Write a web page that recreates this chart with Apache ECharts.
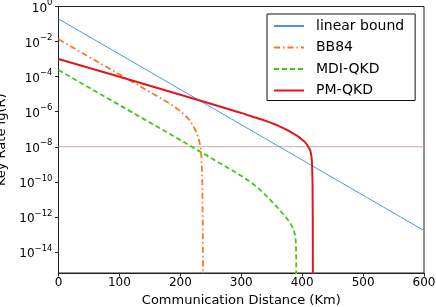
<!DOCTYPE html>
<html>
<head>
<meta charset="utf-8">
<script src="https://cdn.jsdelivr.net/npm/echarts@6/dist/echarts.min.js"></script>
<style>
html,body{margin:0;padding:0;background:#fff;}
#c{width:436px;height:307px;}
</style>
</head>
<body>
<div id="c"></div>
<script>
// Values (distance in km, lg of key rate)
var boundKm = [0, 300, 600];
var boundLg = [-0.71, -6.74, -12.78];

var bb84Km = [0, 50, 100, 150, 165, 180, 192, 200, 207, 213, 218, 222, 226, 229, 231, 233, 234.5, 235.5, 236.2, 236.8, 237.3];
var bb84Lg = [-1.87, -2.87, -3.87, -4.87, -5.18, -5.48, -5.76, -5.97, -6.18, -6.4, -6.64, -6.88, -7.15, -7.42, -7.68, -8.0, -8.5, -9.3, -10.5, -12.5, -16];

var mdiKm = [0, 50, 100, 150, 200, 250, 290, 305, 318, 330, 345, 355, 365, 375, 381, 385, 388, 389.5, 390.2, 390.5];
var mdiLg = [-3.62, -4.62, -5.62, -6.62, -7.62, -8.63, -9.44, -9.77, -10.08, -10.43, -10.93, -11.3, -11.68, -12.1, -12.38, -12.65, -12.98, -13.4, -14.2, -16];

var pmKm = [0, 100, 200, 250, 300, 320, 335, 348, 360, 370, 380, 390, 397, 403, 408, 411.5, 413.7, 415.3, 416.3, 417, 417.4, 417.6];
var pmLg = [-2.99, -4.01, -5.03, -5.55, -6.07, -6.3, -6.46, -6.62, -6.79, -6.95, -7.13, -7.33, -7.51, -7.68, -7.88, -8.08, -8.27, -8.55, -9.0, -10, -12, -16];

var refKm = [0, 600];
var refLg = [-8, -8];

var yTicks = [0, -2, -4, -6, -8, -10, -12, -14];
var names = ['linear bound', 'BB84', 'MDI-QKD', 'PM-QKD'];

function zip(a, b) { return a.map(function (v, i) { return [v, b[i]]; }); }

var FONT = 'DejaVu Sans';
var chart = echarts.init(document.getElementById('c'), null, {renderer: 'canvas'});
chart.setOption({
  animation: false,
  backgroundColor: '#fff',
  textStyle: {fontFamily: FONT},
  grid: {left: 58.5, right: 12, top: 6.5, bottom: 34, outerBoundsMode: 'none', containLabel: false,
         show: true, borderColor: '#222', borderWidth: 1, backgroundColor: 'transparent'},
  legend: {
    data: names,
    orient: 'vertical',
    left: 267, top: 14,
    padding: [5, 11, 3, 6],
    itemWidth: 30, itemHeight: 14, itemGap: 7.5,
    borderColor: '#111', borderWidth: 1, borderRadius: 0,
    backgroundColor: '#fff',
    itemStyle: {opacity: 0},
    textStyle: {fontFamily: FONT, fontSize: 14, color: '#000', padding: [0, 0, 0, 7]}
  },
  xAxis: {
    type: 'value', min: 0, max: 600, interval: 100,
    name: 'Communication Distance (Km)', nameLocation: 'middle', nameGap: 20,
    nameTextStyle: {fontFamily: FONT, fontSize: 13, color: '#000'},
    axisLine: {show: true, onZero: false, lineStyle: {color: '#222', width: 1}},
    axisTick: {show: true, inside: false, length: 3.5, lineStyle: {color: '#222'}},
    axisLabel: {fontFamily: FONT, fontSize: 12, color: '#000', margin: 4},
    splitLine: {show: false}
  },
  yAxis: {
    type: 'value', min: -15.2, max: 0,
    name: 'Key Rate lg(R)', nameLocation: 'middle', nameGap: 42, nameRotate: 90,
    nameTextStyle: {fontFamily: FONT, fontSize: 13, color: '#000'},
    axisLine: {show: true, onZero: false, lineStyle: {color: '#222', width: 1}},
    axisTick: {show: true, inside: false, length: 3.5, lineStyle: {color: '#222'}, customValues: yTicks},
    axisLabel: {
      customValues: yTicks, margin: 6,
      formatter: function (v) { return v === 0 ? '{b|10}{s|0}' : '{b|10}{s|\u2212' + (-v) + '}'; },
      rich: {
        b: {fontFamily: FONT, fontSize: 12, color: '#000', padding: [4, 0, 0, 0]},
        s: {fontFamily: FONT, fontSize: 8.5, color: '#000', verticalAlign: 'top', padding: [0, 0, 6, 0]}
      }
    },
    splitLine: {show: false}
  },
  series: [
    {name: 'ref', type: 'line', data: zip(refKm, refLg), symbol: 'none', silent: true,
     lineStyle: {color: '#d4a6a6', width: 1}, itemStyle: {color: '#d4a6a6'}, z: 1},
    {name: names[0], type: 'line', data: zip(boundKm, boundLg), symbol: 'none', clip: true,
     lineStyle: {color: '#4a96ec', width: 1}, itemStyle: {color: '#4a96ec'}},
    {name: names[1], type: 'line', data: zip(bb84Km, bb84Lg), symbol: 'none', clip: true,
     lineStyle: {color: '#ff7420', width: 1.8, type: [6, 3, 1.5, 3]}, itemStyle: {color: '#ff7420'}},
    {name: names[2], type: 'line', data: zip(mdiKm, mdiLg), symbol: 'none', clip: true,
     lineStyle: {color: '#3ccc14', width: 1.8, type: [5, 3]}, itemStyle: {color: '#3ccc14'}},
    {name: names[3], type: 'line', data: zip(pmKm, pmLg), symbol: 'none', clip: true,
     lineStyle: {color: '#e0171c', width: 2}, itemStyle: {color: '#e0171c'}}
  ]
});
</script>
</body>
</html>
